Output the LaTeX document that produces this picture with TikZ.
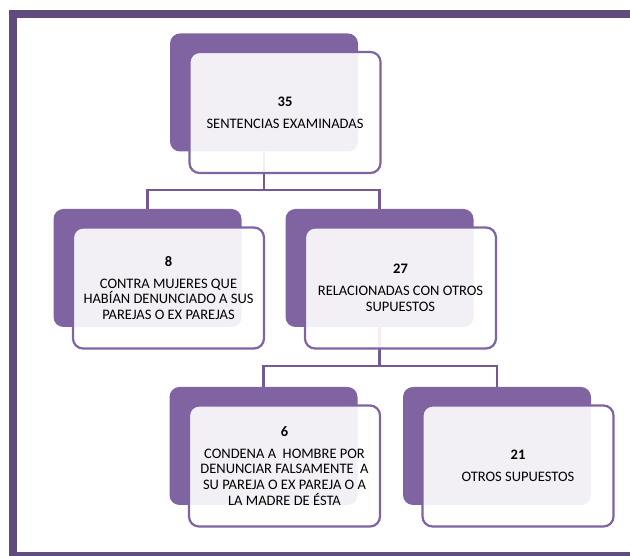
\documentclass[tikz,border=0pt]{standalone}
\usepackage{fontspec}
\setmainfont{Carlito}
\usetikzlibrary{positioning}
\definecolor{lila}{HTML}{8064A2}
\definecolor{lilaosc}{HTML}{5F4B7E}
\begin{document}
\begin{tikzpicture}[x=1pt,y=1pt,
  fondo/.style={fill=lila, rounded corners=10pt, minimum width=188pt, minimum height=118pt, inner sep=0pt},
  caja/.style={draw=lila, line width=2.2pt, fill=white, fill opacity=0.9, text opacity=1,
    rounded corners=10pt, minimum width=191pt, minimum height=121pt, inner sep=0pt,
    align=center, font=\fontsize{14.5}{15.8}\selectfont},
  linea/.style={draw=lila!90!black, line width=2.5pt}]
\useasboundingbox (0,0) rectangle (630,556);
\clip (0,0) rectangle (630,556);
% marco
\draw[lilaosc, line width=8pt] (13,542) rectangle (650,0);
% fondos
\node[fondo] (f35) at (264,463.5) {};
\node[fondo] (f8) at (147.5,288) {};
\node[fondo] (f27) at (379.5,288) {};
\node[fondo] (f6) at (263.5,110) {};
\node[fondo] (f21) at (497,110) {};
% conectores
\draw[linea] (f35.south) |- ([yshift=19pt]f8.north) -- (f8.north);
\draw[linea] (f35.south) |- ([yshift=19pt]f27.north) -- (f27.north);
\draw[linea] (f27.south) |- ([yshift=21pt]f6.north) -- (f6.north);
\draw[linea] (f27.south) |- ([yshift=21pt]f21.north) -- (f21.north);
% cajas
\node[caja] (c35) at ([xshift=21pt,yshift=-20pt]f35.center)
  {\textbf{35}\\[6pt]SENTENCIAS EXAMINADAS};
\node[caja] (c8) at ([xshift=21pt,yshift=-20pt]f8.center)
  {\textbf{8}\\[6pt]CONTRA MUJERES QUE\\HABÍAN DENUNCIADO A SUS\\PAREJAS O EX PAREJAS};
\node[caja] (c27) at ([xshift=21pt,yshift=-20pt]f27.center)
  {\textbf{27}\\[6pt]RELACIONADAS CON OTROS\\SUPUESTOS};
\node[caja] (c6) at ([xshift=21pt,yshift=-20pt]f6.center)
  {\textbf{6}\\[6pt]CONDENA A\ \ HOMBRE POR\\DENUNCIAR FALSAMENTE\ \ A\\SU PAREJA O EX PAREJA O A\\LA MADRE DE ÉSTA};
\node[caja] (c21) at ([xshift=21pt,yshift=-20pt]f21.center)
  {\textbf{21}\\[6pt]OTROS SUPUESTOS};
\end{tikzpicture}
\end{document}
